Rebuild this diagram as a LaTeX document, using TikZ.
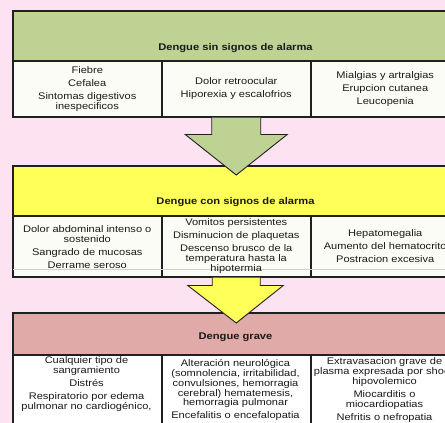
\documentclass[tikz,border=0pt]{standalone}
\usepackage{fontspec}
\setmainfont{Liberation Sans}[FakeStretch=1.15]
\usetikzlibrary{calc}
\definecolor{bgpink}{HTML}{FDE3F1}
\definecolor{hgreen}{HTML}{BDD293}
\definecolor{hyellow}{HTML}{FFFF5A}
\definecolor{hrose}{HTML}{DFAAA8}
\definecolor{cellw}{HTML}{FCFCF6}
\definecolor{edge}{HTML}{202020}
\definecolor{txt}{HTML}{1A1A1A}
\newcommand\gap{\\[3.2pt]}
\tikzset{
  hdr/.style={rectangle, draw=edge, line width=1.5pt, minimum width=447pt, inner sep=0pt, anchor=north west},
  cellbox/.style={rectangle, draw=edge, line width=1.5pt, fill=cellw, minimum width=149pt, inner sep=0pt, anchor=north west},
  ctext/.style={font=\fontsize{9.6}{9.8}\selectfont, align=center, inner sep=0pt, text=txt},
  htext/.style={font=\fontsize{9.7}{10}\selectfont\bfseries, inner sep=0pt, text=txt},
  blockarrow/.style={draw=edge, line width=0.9pt, line join=miter},
  faint/.style={draw=black!18, line width=0.8pt}
}
\begin{document}
\begin{tikzpicture}[x=1pt,y=-1pt]
\useasboundingbox (0,0) rectangle (445,423);
\clip (0,0) rectangle (445,423);
\fill[bgpink] (0,0) rectangle (445,423);

% Box 1
\node[hdr, fill=hgreen, minimum height=50pt] (h1) at (12,10) {};
\node[cellbox, minimum height=56pt] (c11) at (12,60) {};
\node[cellbox, minimum height=56pt] (c12) at (161,60) {};
\node[cellbox, minimum height=56pt] (c13) at (310,60) {};
\node[htext] (ht1) at (235.5,48) {Dengue sin signos de alarma};
\node[ctext] (t11) at (c11.center) {Fiebre\gap Cefalea\gap Sintomas digestivos\\inespecificos};
\node[ctext] (t12) at (c12.center) {Dolor retroocular\gap Hiporexia y escalofrios};
\node[ctext] (t13) at (c13.center) {Mialgias y artralgias\gap Erupcion cutanea\gap Leucopenia};

% Box 2
\node[hdr, fill=hyellow, minimum height=50pt] (h2) at (12,165) {};
\node[cellbox, minimum height=61pt] (c21) at (12,215) {};
\node[cellbox, minimum height=61pt] (c22) at (161,215) {};
\node[cellbox, minimum height=61pt] (c23) at (310,215) {};
\draw[faint] ($(c21.south west)+(1,-8)$) -- ($(c23.south east)+(-1,-8)$);
\node[htext] (ht2) at (235.5,202) {Dengue con signos de alarma};
\node[ctext] (t21) at ($(c21.center)+(0,0.5)$) {Dolor abdominal intenso o\\sostenido\gap Sangrado de mucosas\gap Derrame seroso};
\node[ctext] (t22) at ($(c22.center)+(0,-0.5)$) {Vomitos persistentes\gap Disminucion de plaquetas\gap Descenso brusco de la\\temperatura hasta la\\hipotermia};
\node[ctext] (t23) at (c23.center) {Hepatomegalia\gap Aumento del hematocrito\gap Postracion excesiva};

% Box 3
\node[hdr, fill=hrose, minimum height=42pt] (h3) at (12,312) {};
\node[cellbox, fill=white, minimum height=90pt] (c31) at (12,354) {};
\node[cellbox, fill=white, minimum height=90pt] (c32) at (161,354) {};
\node[cellbox, fill=white, minimum height=90pt] (c33) at (310,354) {};
\node[htext] (ht3) at (235.5,337) {Dengue grave};
\node[ctext, anchor=north] (t31) at (86.5,356.5) {Cualquier tipo de\\sangramiento\gap Distrés\gap Respiratorio por edema\\pulmonar no cardiogénico,};
\node[ctext, anchor=north] (t32) at (235.5,359.5) {Alteración neurológica\\(somnolencia, irritabilidad,\\convulsiones, hemorragia\\cerebral) hematemesis,\\hemorragia pulmonar\gap Encefalitis o encefalopatia};
\node[ctext, anchor=north] (t33) at (384.5,357.5) {Extravasacion grave de\\plasma expresada por shock\\hipovolemico\gap Miocarditis o\\miocardiopatias\gap Nefritis o nefropatia};

% Arrow 1 (green), from box 1 to box 2
\coordinate (a1L) at ($(c12.south)+(-24.5,0)$);
\coordinate (a1R) at ($(c12.south)+(24.5,0)$);
\coordinate (a1tip) at ($(h2.north)+(0,10)$);
\filldraw[blockarrow, fill=hgreen] (a1L) -- ($(a1L)+(0,17)$) -- ($(a1L)+(-26.5,17)$) -- (a1tip) -- ($(a1R)+(26.5,17)$) -- ($(a1R)+(0,17)$) -- (a1R);

% Arrow 2 (yellow), from box 2 to box 3
\coordinate (a2L) at ($(c22.south)+(-24,0)$);
\coordinate (a2R) at ($(c22.south)+(24,0)$);
\coordinate (a2tip) at ($(h3.north)+(0,11)$);
\filldraw[blockarrow, fill=hyellow] (a2L) -- ($(a2L)+(0,8)$) -- ($(a2L)+(-24.5,8)$) -- (a2tip) -- ($(a2R)+(23,8)$) -- ($(a2R)+(0,8)$) -- (a2R);
\end{tikzpicture}
\end{document}
